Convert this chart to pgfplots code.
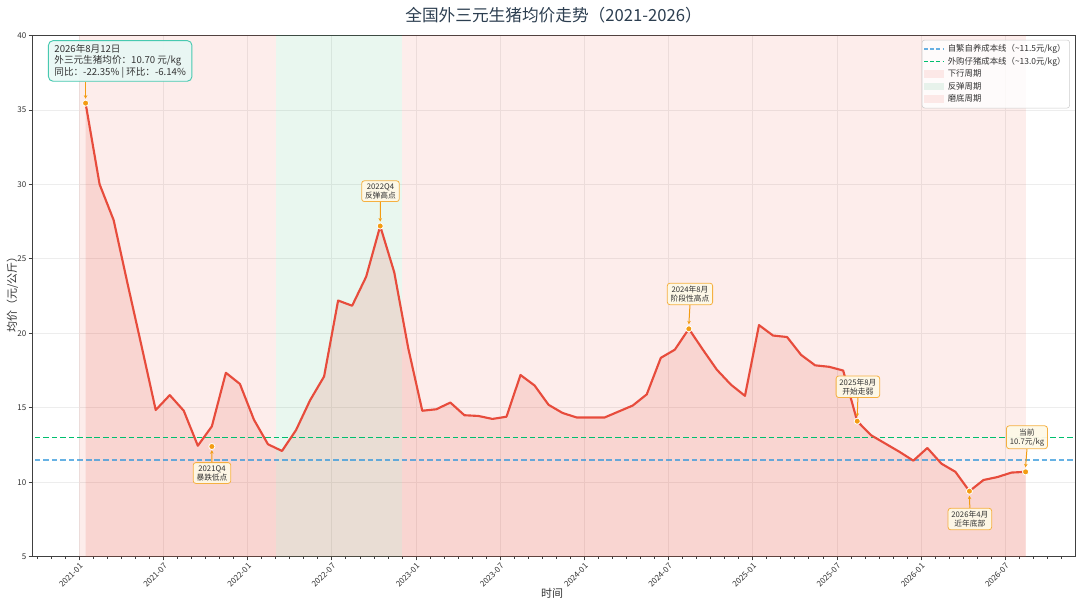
\documentclass[border=0pt]{standalone}
\usepackage{fontspec}
\setmainfont{Noto Sans CJK SC}
\usepackage{pgfplots}
\usepackage{pgfplotstable}
\pgfplotsset{compat=1.18}
\usetikzlibrary{arrows.meta}

\definecolor{priceRed}{HTML}{E74C3C}
\definecolor{mkOrange}{HTML}{F39C12}
\definecolor{spanGreen}{HTML}{27AE60}
\definecolor{costBlue}{HTML}{3498DB}
\definecolor{costGreen}{RGB}{0,190,110}
\definecolor{titleC}{HTML}{2C3E50}
\definecolor{infoEdge}{HTML}{48C9B0}
\definecolor{infoFill}{HTML}{E8F8F5}
\definecolor{annEdge}{HTML}{F5B041}
\definecolor{annFill}{HTML}{FEF9E7}
\definecolor{txtC}{HTML}{333333}

% monthly data, x = months since 2021-01 (mid-month points)
\pgfplotstableread{
x y
0.45 35.45
1.45 30.0
2.45 27.6
3.45 23.3
4.45 19.1
5.45 14.85
6.45 15.85
7.45 14.8
8.45 12.45
9.45 13.75
10.45 17.35
11.45 16.6
12.45 14.2
13.45 12.55
14.45 12.1
15.45 13.5
16.45 15.5
17.45 17.1
18.45 22.2
19.45 21.85
20.45 23.8
21.45 27.2
22.45 24.1
23.45 19.0
24.45 14.8
25.45 14.9
26.45 15.35
27.45 14.5
28.45 14.45
29.45 14.25
30.45 14.4
31.45 17.2
32.45 16.5
33.45 15.2
34.45 14.65
35.45 14.35
36.45 14.35
37.45 14.35
38.45 14.75
39.45 15.15
40.45 15.9
41.45 18.35
42.45 18.9
43.45 20.3
44.45 18.9
45.45 17.55
46.45 16.55
47.45 15.8
48.45 20.55
49.45 19.85
50.45 19.75
51.45 18.55
52.45 17.85
53.45 17.75
54.45 17.5
55.45 14.1
56.45 13.15
57.45 12.6
58.45 12.05
59.45 11.45
60.45 12.3
61.45 11.25
62.45 10.7
63.45 9.4
64.45 10.15
65.45 10.35
66.45 10.65
67.45 10.7
}\pricedata

\pgfplotsset{
  lineleg/.style={legend image code/.code={\draw[##1] (0pt,0pt) -- (15pt,0pt);}},
  boxleg/.style={legend image code/.code={\fill[##1, draw=none, sharp corners] (0pt,-2.8pt) rectangle (15pt,2.8pt);}},
}
\tikzset{
  annbox/.style={draw=annEdge, fill=annFill, fill opacity=0.95, text opacity=1, rounded corners=2pt, align=center,
    font=\fontsize{5.8}{6.8}\selectfont, inner xsep=2.5pt, inner ysep=2pt, line width=0.6pt, text=txtC},
  annarrow/.style={-{Stealth[length=2.6pt,width=2.6pt]}, draw=mkOrange, line width=0.75pt},
}

\begin{document}
\begin{tikzpicture}
\useasboundingbox (0,0) rectangle (810pt,453.75pt);
\begin{axis}[
  at={(24.2pt,36.2pt)}, anchor=south west,
  scale only axis, width=782pt, height=391pt,
  xmin=-3.35, xmax=70.97, ymin=5, ymax=40,
  xtick={0,6,...,66},
  xticklabels={2021-01,2021-07,2022-01,2022-07,2023-01,2023-07,2024-01,2024-07,2025-01,2025-07,2026-01,2026-07},
  minor xtick={-3,...,70},
  ytick={5,10,...,40},
  /pgf/number format/assume math mode=true,
  tick align=outside, xtick pos=bottom, ytick pos=left,
  major tick length=2.8pt, minor tick length=1.6pt,
  axis line style={black!75, line width=0.6pt},
  tick style={black!75, line width=0.5pt},
  grid=major, major grid style={black!7, line width=0.5pt},
  ticklabel style={font=\fontsize{6}{7}\selectfont, text=txtC},
  xticklabel style={rotate=45, anchor=north east, inner sep=1pt},
  yticklabel style={inner sep=1.5pt},
  legend style={at={(0.9952,0.9916)}, anchor=north east, draw=black!20, fill=white, fill opacity=0.8, text opacity=1,
    rounded corners=2pt, font=\fontsize{6.3}{7.2}\selectfont, inner xsep=1pt, inner ysep=2pt, row sep=0pt,
    nodes={text height=5.4pt, text depth=1.2pt, inner ysep=1.4pt, inner xsep=2.2pt, text=txtC}},
  legend cell align=left,
]
% cycle spans
\addplot[forget plot, draw=none, fill=priceRed, fill opacity=0.1] coordinates {(0,5) (0,40) (14,40) (14,5)} -- cycle;
\addplot[forget plot, draw=none, fill=spanGreen, fill opacity=0.1] coordinates {(14,5) (14,40) (23,40) (23,5)} -- cycle;
\addplot[forget plot, draw=none, fill=priceRed, fill opacity=0.1] coordinates {(23,5) (23,40) (67.45,40) (67.45,5)} -- cycle;
% area under price
\addplot[forget plot, draw=none, fill=priceRed, fill opacity=0.15] table {\pricedata} \closedcycle;
% cost lines
\addplot[forget plot, draw=costBlue, draw opacity=0.75, line width=1pt, dash pattern=on 4.2pt off 2.2pt] coordinates {(-5,11.5) (75,11.5)};
\addplot[forget plot, draw=costGreen, line width=1.1pt, dash pattern=on 4.2pt off 2.2pt] coordinates {(-5,13.0) (75,13.0)};
% price line
\addplot[forget plot, priceRed, line width=1.6pt, line join=round] table {\pricedata};
% key markers
\addplot[forget plot, only marks, mark=*, mark size=2.3pt, mark options={fill=mkOrange, draw=white, line width=0.6pt}]
  coordinates {(0.45,35.45) (9.45,12.4) (21.45,27.2) (43.45,20.3) (55.45,14.1) (63.45,9.4) (67.45,10.7)};

% legend
\addlegendimage{lineleg, draw=costBlue, draw opacity=0.75, line width=1pt, dash pattern=on 3pt off 1.6pt}
\addlegendentry{自繁自养成本线（\textasciitilde 11.5元/kg）}
\addlegendimage{lineleg, draw=costGreen, line width=1.1pt, dash pattern=on 3pt off 1.6pt}
\addlegendentry{外购仔猪成本线（\textasciitilde 13.0元/kg）}
\addlegendimage{boxleg, priceRed, fill opacity=0.1}
\addlegendentry{下行周期}
\addlegendimage{boxleg, spanGreen, fill opacity=0.1}
\addlegendentry{反弹周期}
\addlegendimage{boxleg, priceRed, fill opacity=0.1}
\addlegendentry{磨底周期}

% info box
\node[anchor=north west, draw=infoEdge, fill=infoFill, fill opacity=0.9, text opacity=1, rounded corners=3.5pt, align=left,
  font=\fontsize{7.2}{8.6}\selectfont, inner xsep=4.5pt, inner ysep=2.6pt, line width=0.7pt, text=txtC]
  at (axis cs:-2.23,39.68) {2026年8月12日\\外三元生猪均价：10.70 元/kg\\同比：-22.35\% | 环比：-6.14\%};
\draw[annarrow] (axis cs:0.45,36.86) -- (axis cs:0.45,35.75);

% annotations
\node[annbox] (a1) at (axis cs:9.46,10.62) {2021Q4\\暴跌低点};
\draw[annarrow] (a1.north) -- (axis cs:9.45,12.15);
\node[annbox] (a2) at (axis cs:21.47,29.54) {2022Q4\\反弹高点};
\draw[annarrow] (a2.south) -- (axis cs:21.45,27.5);
\node[annbox] (a3) at (axis cs:43.53,22.64) {2024年8月\\阶段性高点};
\draw[annarrow] (a3.south) -- (axis cs:43.45,20.6);
\node[annbox] (a4) at (axis cs:55.5,16.41) {2025年8月\\开始走弱};
\draw[annarrow] (a4.south) -- (axis cs:55.45,14.4);
\node[annbox] (a5) at (axis cs:63.48,7.53) {2026年4月\\近年底部};
\draw[annarrow] (a5.north) -- (axis cs:63.45,9.1);
\node[annbox] (a6) at (axis cs:67.55,13.02) {当前\\10.7元/kg};
\draw[annarrow] (a6.south) -- (axis cs:67.45,11.0);
\end{axis}

% title and axis labels
\node[anchor=base, font=\fontsize{12.5}{14}\selectfont, text=titleC] at (415.2pt,437.8pt) {全国外三元生猪均价走势（2021-2026）};
\node[anchor=base, font=\fontsize{8.25}{9}\selectfont, text=txtC] at (414pt,5.25pt) {时间};
\node[anchor=base, rotate=90, font=\fontsize{8.25}{9}\selectfont, text=txtC] at (12.15pt,234.75pt) {均价（元/公斤）};
\end{tikzpicture}
\end{document}
